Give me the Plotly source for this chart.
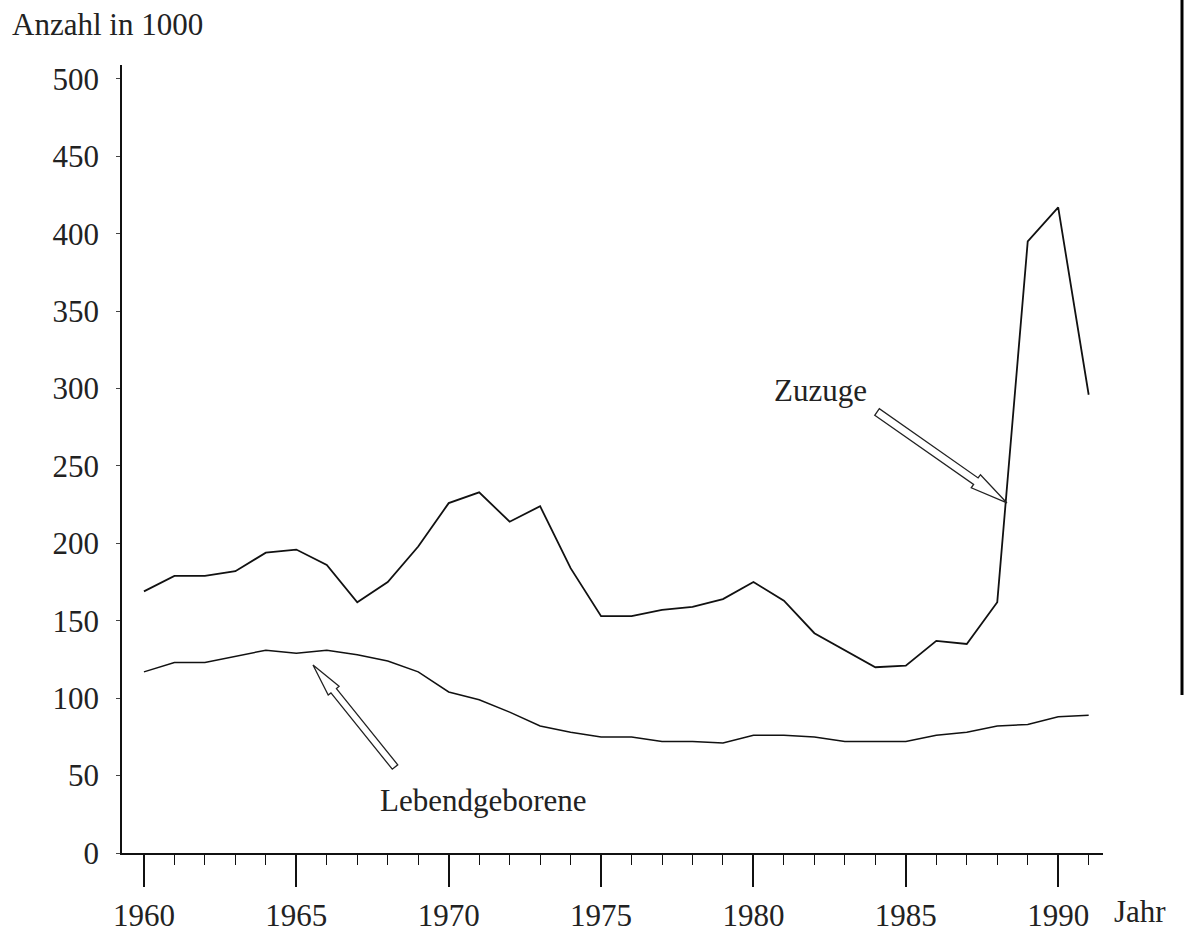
import plotly.graph_objects as go
import math

# Daten (Anzahl in 1000)
jahre = list(range(1960, 1992))
zuzuge = [169, 179, 179, 182, 194, 196, 186, 162, 175, 198, 226, 233, 214, 224, 184, 153,
          153, 157, 159, 164, 175, 163, 142, 131, 120, 121, 137, 135, 162, 395, 417, 296]
lebendgeborene = [117, 123, 123, 127, 131, 129, 131, 128, 124, 117, 104, 99, 91, 82, 78, 75,
                  75, 72, 72, 71, 76, 76, 75, 72, 72, 72, 76, 78, 82, 83, 88, 89]
x_ticks = list(range(1960, 1991, 5))
y_ticks = list(range(0, 501, 50))

W, H = 1186, 934
# Plotbereich in Pixeln
PL, PR, PT, PB = 122, 1103, 65, 853
FONT = "Liberation Serif"


def px2paper(px, py):
    return (px - PL) / (PR - PL), (PB - py) / (PB - PT)


def hohlpfeil(tail, tip, w, hw, hl):
    # umrissener Pfeil als Pfad (Pixel -> paper)
    dx, dy = tip[0] - tail[0], tip[1] - tail[1]
    d = math.hypot(dx, dy)
    ux, uy = dx / d, dy / d
    nx, ny = -uy, ux
    bx, by = tip[0] - ux * hl, tip[1] - uy * hl
    pts = [(tail[0] + nx * w, tail[1] + ny * w), (bx + nx * w, by + ny * w),
           (bx + nx * hw, by + ny * hw), tip,
           (bx - nx * hw, by - ny * hw), (bx - nx * w, by - ny * w),
           (tail[0] - nx * w, tail[1] - ny * w)]
    p = [px2paper(*q) for q in pts]
    path = "M " + " L ".join(f"{a:.4f},{b:.4f}" for a, b in p) + " Z"
    return dict(type="path", xref="paper", yref="paper", path=path,
                line=dict(color="#222", width=1.3), fillcolor="white", layer="above")


fig = go.Figure()
fig.add_trace(go.Scatter(x=jahre, y=zuzuge, mode="lines", name="Zuzuge",
                         line=dict(color="#111", width=1.8)))
fig.add_trace(go.Scatter(x=jahre, y=lebendgeborene, mode="lines", name="Lebendgeborene",
                         line=dict(color="#111", width=1.5)))

annots = []
for txt, (px, py), xa in [("Anzahl in 1000", (10, 24), "left"),
                          ("Jahr", (1140, 911), "center"),
                          ("Zuzuge", (820, 390), "center"),
                          ("Lebendgeborene", (483, 800), "center")]:
    ax, ay = px2paper(px, py)
    annots.append(dict(text=txt, x=ax, y=ay, xref="paper", yref="paper", xanchor=xa,
                       yanchor="middle", showarrow=False,
                       font=dict(family=FONT, size=31, color="#222")))

x0p, y0p = px2paper(1182, 0)
x1p, y1p = px2paper(1182, 695)
shapes = [hohlpfeil((877, 412), (1007, 503), 4, 8, 38),
          hohlpfeil((395, 767), (313, 665), 3.5, 7, 33),
          dict(type="line", xref="paper", yref="paper", x0=x0p, x1=x1p, y0=y0p, y1=y1p,
               line=dict(color="black", width=3))]

fig.update_layout(
    width=W, height=H,
    margin=dict(l=PL, r=W - PR, t=PT, b=H - PB, autoexpand=False),
    paper_bgcolor="white", plot_bgcolor="white",
    showlegend=False,
    font=dict(family=FONT, size=31, color="#222"),
    annotations=annots,
    shapes=shapes,
    xaxis=dict(range=[1959.28, 1991.47], tickvals=x_ticks, ticks="outside", ticklen=32,
               tickwidth=1.5, tickcolor="#111", showline=True, linecolor="#111", linewidth=1.5,
               showgrid=False, zeroline=False, ticklabelstandoff=2, automargin=False,
               minor=dict(tickvals=jahre, ticks="outside", ticklen=10, tickwidth=1.3,
                          tickcolor="#111", showgrid=False)),
    yaxis=dict(range=[0, 509], tickvals=y_ticks, ticks="outside", ticklen=4, tickwidth=1,
               tickcolor="#444", showline=True, linecolor="#111", linewidth=1.5,
               showgrid=False, zeroline=False, ticklabelstandoff=11, automargin=False),
)

# Standard-Seitenrand (8px) entfernen, damit die Figur genau ins Fenster passt
fig.write_html("out.html", config={"displayModeBar": False},
               post_script="document.body.style.margin='0';document.body.style.overflow='hidden';")
